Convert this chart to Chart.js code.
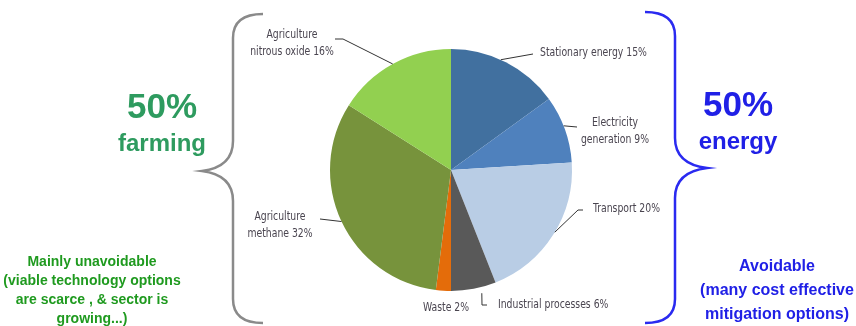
<!DOCTYPE html>
<html>
<head>
<meta charset="utf-8">
<script src="https://cdn.jsdelivr.net/npm/chart.js@4/dist/chart.umd.min.js"></script>
<style>
  html, body { margin: 0; padding: 0; background: #fff; }
  #pie { display: block; }
</style>
</head>
<body>
<canvas id="pie" width="856" height="326"></canvas>
<script>
// emission sources, clockwise from 12 o'clock
var sectores = ['Stationary energy', 'Electricity generation', 'Transport', 'Industrial processes', 'Waste', 'Agriculture methane', 'Agriculture nitrous oxide'];
var porcentajes = [15, 9, 20, 6, 2, 32, 16];
var colores = ['#41709f', '#4f81bd', '#b9cde5', '#595959', '#e46c0a', '#77933c', '#92d050'];

// label text lines (value appended from porcentajes)
var etiquetas = [
    ['Stationary energy '],
    ['Electricity', 'generation '],
    ['Transport '],
    ['Industrial processes '],
    ['Waste '],
    ['Agriculture', 'methane '],
    ['Agriculture', 'nitrous oxide ']
];

// leader lines and text placement, px from pie centre
// frac = where along the slice the line starts, extra = gap off the rim
var guias = [
    { frac: 0.45, pts: [[82, -116]], txt: [89, -117], align: 'left' },
    { frac: 0.45, pts: [[126, -43]], txt: [164, -47], align: 'center' },
    { frac: 0.48, pts: [[127, 40], [132, 40]], txt: [142, 39], align: 'left' },
    { frac: 0.35, pts: [[31, 135], [36, 135]], txt: [47, 135], align: 'left', extra: 6 },
    { pts: null, txt: [-5, 138], align: 'center' },
    { frac: 0.5, pts: [[-131, 49]], txt: [-171, 47], align: 'center' },
    { frac: 0.5, pts: [[-108, -131], [-116, -131]], txt: [-159, -135], align: 'center' }
];

var fuenteEtiqueta = '12px "Liberation Sans Narrow", "DejaVu Sans Condensed", sans-serif';
var estrecho = 0.86;

var etiquetasPlugin = {
    id: 'etiquetas',
    afterDatasetsDraw: function(chart) {
        var ctx = chart.ctx;
        var arcos = chart.getDatasetMeta(0).data;
        ctx.save();
        ctx.strokeStyle = '#333';
        ctx.lineWidth = 1;
        ctx.fillStyle = '#4a4550';
        ctx.font = fuenteEtiqueta;
        ctx.textBaseline = 'middle';
        arcos.forEach(function(arc, i) {
            var g = guias[i];
            var cx = arc.x, cy = arc.y;
            if (g.pts) {
                var a = arc.startAngle + (arc.endAngle - arc.startAngle) * g.frac;
                var r = arc.outerRadius + (g.extra || 0);
                ctx.beginPath();
                ctx.moveTo(cx + Math.cos(a) * r, cy + Math.sin(a) * r);
                g.pts.forEach(function(p) { ctx.lineTo(cx + p[0], cy + p[1]); });
                ctx.stroke();
            }
            var lineas = etiquetas[i].slice();
            lineas[lineas.length - 1] += porcentajes[i] + '%';
            ctx.textAlign = g.align;
            lineas.forEach(function(t, k) {
                ctx.save();
                ctx.translate(cx + g.txt[0], cy + g.txt[1] + k * 17);
                ctx.scale(estrecho, 1);
                ctx.fillText(t, 0, 0);
                ctx.restore();
            });
        });
        ctx.restore();
    }
};

// curly braces and the side notes
function llave(ctx, x, top, bot, tip, dir) {
    // dir = -1 points left, 1 points right
    var mid = tip[1];
    var ext = x - dir * 30;
    ctx.beginPath();
    ctx.moveTo(ext, top);
    ctx.quadraticCurveTo(x, top, x, top + 24);
    ctx.lineTo(x, mid - 30);
    ctx.quadraticCurveTo(x, mid - 4, tip[0], mid);
    ctx.quadraticCurveTo(x, mid + 4, x, mid + 30);
    ctx.lineTo(x, bot - 24);
    ctx.quadraticCurveTo(x, bot, ext, bot);
    ctx.stroke();
}

var notasPlugin = {
    id: 'notas',
    afterDraw: function(chart) {
        var ctx = chart.ctx;
        ctx.save();
        ctx.lineWidth = 2.5;
        ctx.strokeStyle = '#8a8a8a';
        llave(ctx, 233, 14, 323, [202, 171], -1);
        ctx.strokeStyle = '#2a2af0';
        llave(ctx, 675, 12, 323, [707, 168], 1);

        ctx.textAlign = 'center';
        ctx.textBaseline = 'middle';
        ctx.fillStyle = '#2e9b5f';
        ctx.font = 'bold 35px "Liberation Sans", Arial, sans-serif';
        ctx.fillText('50%', 162, 108);
        ctx.font = 'bold 24px "Liberation Sans", Arial, sans-serif';
        ctx.fillText('farming', 162, 144);

        ctx.fillStyle = '#2020e6';
        ctx.font = 'bold 35px "Liberation Sans", Arial, sans-serif';
        ctx.fillText('50%', 738, 106);
        ctx.font = 'bold 24px "Liberation Sans", Arial, sans-serif';
        ctx.fillText('energy', 738, 142);

        ctx.fillStyle = '#1f9a1f';
        ctx.font = 'bold 14px "Liberation Sans", Arial, sans-serif';
        ['Mainly unavoidable', '(viable technology options', 'are scarce , & sector is', 'growing...)'].forEach(function(t, k) {
            ctx.fillText(t, 92, 262 + k * 19);
        });

        ctx.fillStyle = '#2020e6';
        ctx.font = 'bold 16px "Liberation Sans", Arial, sans-serif';
        ['Avoidable', '(many cost effective', 'mitigation options)'].forEach(function(t, k) {
            ctx.fillText(t, 777, 267 + k * 24);
        });
        ctx.restore();
    }
};

var ctx = document.getElementById('pie').getContext('2d');
window.myPie = new Chart(ctx, {
    type: 'pie',
    data: {
        labels: sectores,
        datasets: [{
            data: porcentajes,
            backgroundColor: colores,
            borderWidth: 0
        }]
    },
    options: {
        responsive: false,
        animation: false,
        layout: { padding: { left: 330, right: 284, top: 49, bottom: 35 } },
        plugins: {
            legend: { display: false },
            tooltip: { enabled: false }
        }
    },
    plugins: [etiquetasPlugin, notasPlugin]
});
</script>
</body>
</html>
